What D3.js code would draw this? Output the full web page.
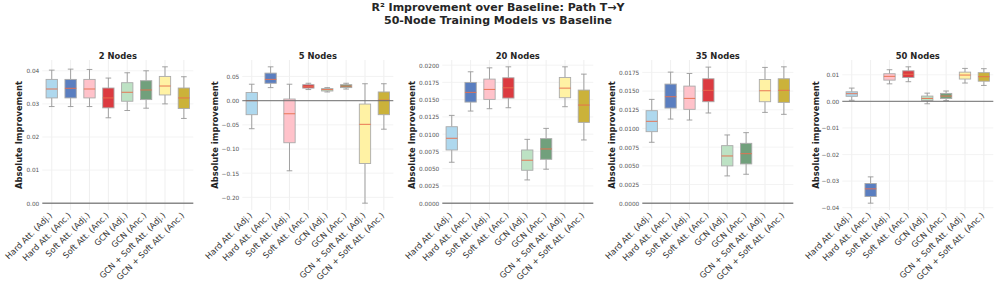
<!DOCTYPE html>
<html><head><meta charset="utf-8">
<script src="https://cdn.jsdelivr.net/npm/d3@7"></script>
<style>
body{margin:0;background:#fff;}
svg{display:block;font-family:"DejaVu Sans",sans-serif;}
</style></head>
<body><svg id="c" width="996" height="284"></svg>
<script>
const categories = ["Hard Att. (Adj.)","Hard Att. (Anc.)","Soft Att. (Adj.)","Soft Att. (Anc.)","GCN (Adj.)","GCN (Anc.)","GCN + Soft Att. (Adj.)","GCN + Soft Att. (Anc.)"];
const boxColors = ["#aed8ee","#5a7ec0","#ffc2ca","#dc3a40","#bde2c4","#71a07c","#fff2a4","#cbb23a"];
const panelTitles = ["2 Nodes","5 Nodes","20 Nodes","35 Nodes","50 Nodes"];
const yLabels = ["Absolute Improvement","Absolute improvement","Absolute Improvement","Absolute improvement","Absolute improvement"];
// [whisker low, q1, median, q3, whisker high]
const stats2 = [
 [0.0292,0.0318,0.0345,0.0374,0.0402],
 [0.0292,0.0318,0.0347,0.0374,0.0405],
 [0.0292,0.0318,0.0345,0.0374,0.0404],
 [0.0258,0.0288,0.0318,0.0348,0.0378],
 [0.0280,0.0308,0.0335,0.0364,0.0394],
 [0.0287,0.0313,0.0342,0.0370,0.0400],
 [0.0300,0.0327,0.0354,0.0383,0.0412],
 [0.0256,0.0286,0.0318,0.0348,0.0382]];
const stats5 = [
 [-0.058,-0.029,0.000,0.017,0.034],
 [0.027,0.036,0.044,0.057,0.070],
 [-0.145,-0.087,-0.027,0.0034,0.034],
 [0.023,0.026,0.029,0.033,0.036],
 [0.018,0.020,0.023,0.025,0.027],
 [0.024,0.027,0.030,0.033,0.036],
 [-0.212,-0.130,-0.049,-0.007,0.035],
 [-0.059,-0.029,0.001,0.018,0.035]];
const stats20 = [
 [0.00593,0.00771,0.0094,0.01108,0.01272],
 [0.01335,0.01465,0.01605,0.0175,0.01904],
 [0.01369,0.01504,0.01648,0.01798,0.01961],
 [0.01383,0.01523,0.01672,0.01817,0.01976],
 [0.00337,0.00477,0.00622,0.00771,0.00925],
 [0.00492,0.00636,0.00786,0.00935,0.01084],
 [0.01398,0.01528,0.01667,0.01822,0.01976],
 [0.00916,0.01171,0.01422,0.01639,0.0187]];
const stats35 = [
 [0.00815,0.00957,0.01095,0.01238,0.01389],
 [0.01126,0.01273,0.01425,0.01594,0.01754],
 [0.01113,0.01256,0.01402,0.01567,0.01736],
 [0.01207,0.01358,0.0151,0.01665,0.01821],
 [0.00365,0.00499,0.00632,0.0077,0.00913],
 [0.00387,0.00525,0.00663,0.00801,0.00944],
 [0.01215,0.01358,0.01505,0.01656,0.01817],
 [0.01189,0.01349,0.0151,0.01665,0.01825]];
const stats50 = [
 [0.0004,0.0019,0.0029,0.0036,0.0050],
 [-0.0383,-0.0358,-0.0329,-0.0309,-0.0284],
 [0.0066,0.0080,0.0094,0.0104,0.0119],
 [0.0074,0.0090,0.0102,0.0115,0.0130],
 [-0.0009,0.0003,0.0011,0.0020,0.0031],
 [0.0003,0.0011,0.0020,0.0030,0.0039],
 [0.0069,0.0084,0.0099,0.0110,0.0124],
 [0.0060,0.0076,0.0093,0.0108,0.0123]];
const ticks2 = [0,0.01,0.02,0.03,0.04];
const ticks5 = [-0.20,-0.15,-0.10,-0.05,0,0.05];
const ticks20 = [0,0.0025,0.005,0.0075,0.01,0.0125,0.015,0.0175,0.02];
const ticks35 = [0,0.0025,0.005,0.0075,0.01,0.0125,0.015,0.0175];
const ticks50 = [-0.04,-0.03,-0.02,-0.01,0,0.01];
const tickFormats = [".2f",".2f",".4f",".4f",".2f"];

const allStats = [stats2,stats5,stats20,stats35,stats50];
const allTicks = [ticks2,ticks5,ticks20,ticks35,ticks50];
const yLabelOffsets = [20,24,27,27,23];

const svg = d3.select("#c");
svg.append("text").attr("x",498).attr("y",11).attr("text-anchor","middle")
  .attr("font-size",11).attr("font-weight","bold").attr("fill","#262626").text("R² Improvement over Baseline: Path T→Y");
svg.append("text").attr("x",498).attr("y",24).attr("text-anchor","middle")
  .attr("font-size",11).attr("font-weight","bold").attr("fill","#262626").text("50-Node Training Models vs Baseline");

const plotTop = 60, plotBottom = 210, pw = 151;
allStats.forEach((stats, p) => {
  const left = 42.3 + p*200;
  const g = svg.append("g");
  const x = d3.scaleLinear().domain([-0.5, categories.length-0.5]).range([left, left+pw]);
  let mn = Math.min(0, d3.min(stats, d=>d[0])), mx = Math.max(0, d3.max(stats, d=>d[4]));
  const pad = (mx-mn)*0.05;
  const y = d3.scaleLinear().domain([mn-pad, mx+pad]).range([plotBottom, plotTop]);
  const step = x(1)-x(0), bw = step*0.6;

  // grid
  g.selectAll(".vg").data(categories).join("line")
    .attr("x1",(d,i)=>x(i)).attr("x2",(d,i)=>x(i)).attr("y1",plotTop).attr("y2",plotBottom)
    .attr("stroke","#ebebeb").attr("stroke-width",0.8);
  g.selectAll(".hg").data(allTicks[p]).join("line")
    .attr("x1",left).attr("x2",left+pw).attr("y1",d=>y(d)).attr("y2",d=>y(d))
    .attr("stroke","#f0f0f0").attr("stroke-width",0.8);

  // y axis
  const fmt = d3.format(tickFormats[p]);
  const ya = g.append("g").attr("transform",`translate(${left},0)`)
    .call(d3.axisLeft(y).tickValues(allTicks[p]).tickSize(0).tickPadding(3)
      .tickFormat(d=>fmt(d).replace("-","−")));
  ya.select(".domain").remove();
  ya.selectAll("text").attr("font-size",5.8).attr("fill","#555").attr("font-family","DejaVu Sans");

  // x axis
  const xa = g.append("g").attr("transform",`translate(0,${plotBottom})`)
    .call(d3.axisBottom(x).tickValues(d3.range(categories.length)).tickSize(0).tickFormat(i=>categories[i]));
  xa.select(".domain").remove();
  xa.selectAll("text").attr("font-size",8.3).attr("fill","#333").attr("font-family","DejaVu Sans")
    .attr("text-anchor","end").attr("dy",null).attr("y",0)
    .attr("transform","translate(0.5,6) rotate(-45)");

  // boxes
  const bx = g.selectAll(".box").data(stats).join("g");
  bx.append("line").attr("x1",(d,i)=>x(i)).attr("x2",(d,i)=>x(i))
    .attr("y1",d=>y(d[3])).attr("y2",d=>y(d[4])).attr("stroke","#999").attr("stroke-width",0.9);
  bx.append("line").attr("x1",(d,i)=>x(i)).attr("x2",(d,i)=>x(i))
    .attr("y1",d=>y(d[0])).attr("y2",d=>y(d[1])).attr("stroke","#999").attr("stroke-width",0.9);
  bx.append("line").attr("x1",(d,i)=>x(i)-bw/4).attr("x2",(d,i)=>x(i)+bw/4)
    .attr("y1",d=>y(d[4])).attr("y2",d=>y(d[4])).attr("stroke","#999").attr("stroke-width",0.9);
  bx.append("line").attr("x1",(d,i)=>x(i)-bw/4).attr("x2",(d,i)=>x(i)+bw/4)
    .attr("y1",d=>y(d[0])).attr("y2",d=>y(d[0])).attr("stroke","#999").attr("stroke-width",0.9);
  bx.append("rect").attr("x",(d,i)=>x(i)-bw/2).attr("width",bw)
    .attr("y",d=>y(d[3])).attr("height",d=>Math.max(0.5,y(d[1])-y(d[3])))
    .attr("fill",(d,i)=>boxColors[i]).attr("stroke","#aaa").attr("stroke-width",0.9);
  bx.append("line").attr("x1",(d,i)=>x(i)-bw/2).attr("x2",(d,i)=>x(i)+bw/2)
    .attr("y1",d=>y(d[2])).attr("y2",d=>y(d[2])).attr("stroke","#e8704f").attr("stroke-width",1.1).attr("opacity",0.85);

  // zero line
  g.append("line").attr("x1",left).attr("x2",left+pw).attr("y1",y(0)).attr("y2",y(0))
    .attr("stroke","#6f6f6f").attr("stroke-width",1.4).attr("opacity",0.8);

  // titles
  g.append("text").attr("x",left+pw/2).attr("y",plotTop-1.5).attr("text-anchor","middle")
    .attr("font-size",8.4).attr("font-weight","bold").attr("fill","#262626").text(panelTitles[p]);
  g.append("text").attr("transform",`translate(${left-yLabelOffsets[p]},${(plotTop+plotBottom)/2}) rotate(-90)`)
    .attr("text-anchor","middle").attr("font-size",8.4).attr("font-weight","bold").attr("fill","#262626").text(yLabels[p]);
});
</script></body></html>
